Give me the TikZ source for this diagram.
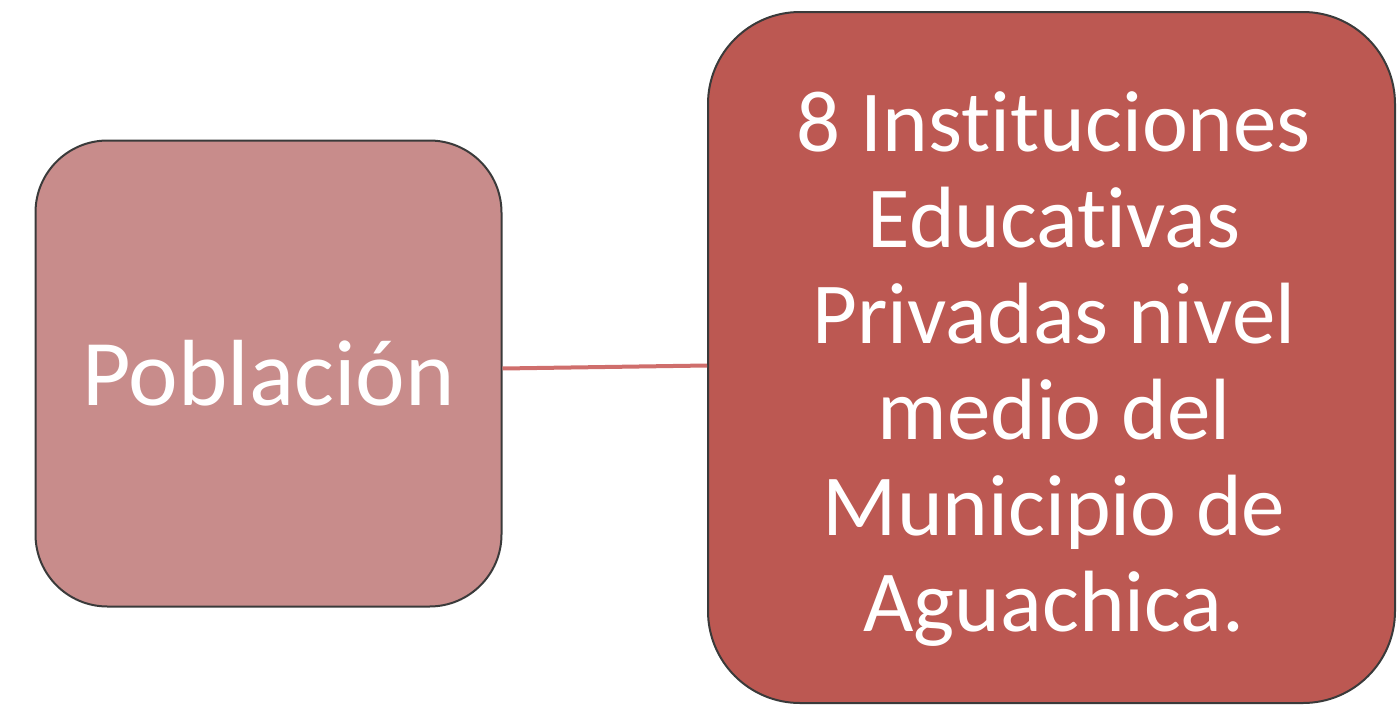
\documentclass[tikz,border=0pt]{standalone}
\usepackage{fontspec}
\setmainfont[RawFeature={-liga;-clig;-dlig}]{Carlito}
\definecolor{leftfill}{HTML}{C88C8B}
\definecolor{rightfill}{HTML}{BC5852}
\definecolor{edge}{HTML}{3A3A3A}
\definecolor{connc}{HTML}{CF6E6C}
\tikzset{
  box/.style={draw=edge, line width=2pt, inner sep=0pt, text=white, align=center},
  conn/.style={draw=connc, line width=4pt},
}
\begin{document}
\begin{tikzpicture}[x=1pt,y=-1pt]
\useasboundingbox (0,0) rectangle (1398,707);
\node[box, fill=leftfill, rounded corners=72pt, minimum width=466pt, minimum height=466pt,
      font=\fontsize{94}{113}\selectfont] (pob) at (268.5,373.5) {Población};
\node[box, fill=rightfill, rounded corners=92pt, minimum width=687pt, minimum height=691pt] (inst) at (1051.5,357.5) {};
\node[text=white, align=center, inner sep=0pt, font=\fontsize{87}{96}\selectfont] (insttext) at (1054,369)
  {8 Instituciones\\Educativas\\Privadas nivel\\medio del\\Municipio de\\Aguachica.};
\draw[conn] ([yshift=5pt]pob.east) -- ([yshift=-8pt]inst.west);
\end{tikzpicture}
\end{document}
